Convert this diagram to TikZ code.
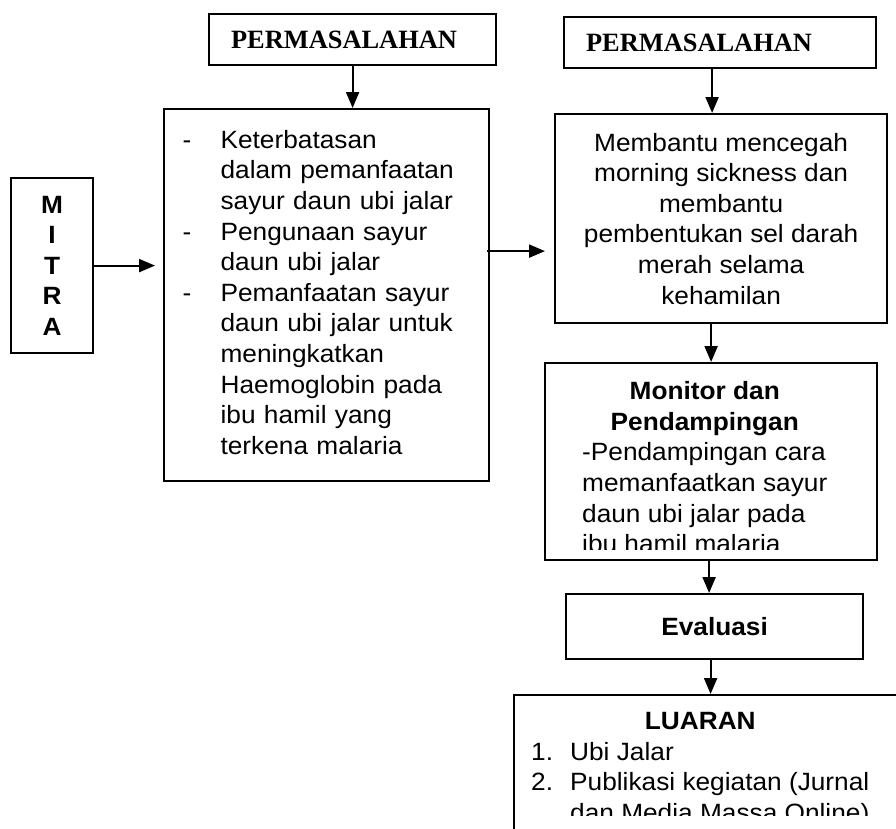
\documentclass[tikz,border=0pt]{standalone}
\usepackage{fontspec}
\setmainfont{Liberation Sans}[FakeStretch=1.05]
\newfontfamily\timesfont{Liberation Serif}
\usetikzlibrary{arrows.meta,calc}

\begin{document}
\begin{tikzpicture}[x=1pt,y=-1pt,
    every node/.style={font=\fontsize{25}{30.6}\selectfont},
    box/.style={draw=black,line width=2.2pt,inner sep=0pt,anchor=north west},
    txt/.style={inner sep=0pt,anchor=north west},
    bold/.style={font=\fontsize{25}{30.6}\selectfont\bfseries},
    heading/.style={font=\timesfont\bfseries\fontsize{26.4}{30}\selectfont},
    arr/.style={black,line width=2.2pt,-{Triangle[length=16pt,width=13pt]}}]
    \useasboundingbox (0,0) rectangle (896,828);
    \clip (0,0) rectangle (896,828);
    \node[box,heading,minimum width=287pt,minimum height=51pt,text width=243pt,inner xsep=22pt,align=left] (perm1) at (208,13) {PERMASALAHAN};
    \node[box,heading,minimum width=312pt,minimum height=51pt,text width=268pt,inner xsep=22pt,align=left] (perm2) at (563,16) {PERMASALAHAN};
    \node[box,bold,minimum width=82pt,minimum height=175pt,align=center] (mitra) at (10,177) {M\\I\\T\\R\\A};
    \node[box,minimum width=325pt,minimum height=372pt,text width=288pt,inner xsep=18.5pt,align=left] (masalah) at (163,108) {\noindent\begin{tabular}{@{}p{38pt}@{}l@{}}
        - & Keterbatasan\\
          & dalam pemanfaatan\\
          & sayur daun ubi jalar\\
        - & Pengunaan sayur\\
          & daun ubi jalar\\
        - & Pemanfaatan sayur\\
          & daun ubi jalar untuk\\
          & meningkatkan\\
          & Haemoglobin pada\\
          & ibu hamil yang\\
          & terkena malaria
    \end{tabular}};
    \node[box,minimum width=332pt,minimum height=209pt,align=center] (manfaat) at (554,113) {Membantu mencegah\\morning sickness dan\\membantu\\pembentukan sel darah\\merah selama\\kehamilan};
    \node[box,minimum width=332pt,minimum height=197pt] (monitor) at (544,362) {};
    \begin{scope}
        \clip (544,362) rectangle (876,549);
        \node[txt] (monitortxt) at (582,378) {\begin{tabular}{@{}l@{}}
            \multicolumn{1}{@{}c@{}}{\bfseries Monitor dan}\\
            \multicolumn{1}{@{}c@{}}{\bfseries Pendampingan}\\
            -Pendampingan cara\\
            memanfaatkan sayur\\
            daun ubi jalar pada\\
            ibu hamil malaria
        \end{tabular}};
    \end{scope}
    \node[box,bold,minimum width=297pt,minimum height=65pt] (evaluasi) at (565,593) {Evaluasi};
    \node[box,minimum width=400pt,minimum height=160pt] (luaran) at (513,694) {};
    \begin{scope}
        \clip (513,694) rectangle (896,815);
        \node[txt] (luarantxt) at (531,708) {\begin{tabular}{@{}p{39pt}@{}l@{}}
            \multicolumn{2}{@{}c@{}}{\bfseries LUARAN}\\
            1. & Ubi Jalar\\
            2. & Publikasi kegiatan (Jurnal\\
               & dan Media Massa Online)
        \end{tabular}};
    \end{scope}
    \draw[arr] (perm1.south) -- (perm1.south |- masalah.north);
    \draw[arr] ([xshift=-8pt]perm2.south) -- ([xshift=-8pt]perm2.south |- manfaat.north);
    \draw[arr] (mitra.east) -- ([xshift=-8pt]masalah.west |- mitra.east);
    \draw[arr] ($(masalah.east)+(-3,-44)$) -- ($(manfaat.west)+(-9,32.5)$);
    \draw[arr] (manfaat.south -| monitor.north) -- (monitor.north);
    \draw[arr] ([xshift=-2pt]monitor.south) -- ([xshift=-2pt]monitor.south |- evaluasi.north);
    \draw[arr] ([xshift=-4pt]evaluasi.south) -- ([xshift=-4pt]evaluasi.south |- luaran.north);
\end{tikzpicture}
\end{document}
